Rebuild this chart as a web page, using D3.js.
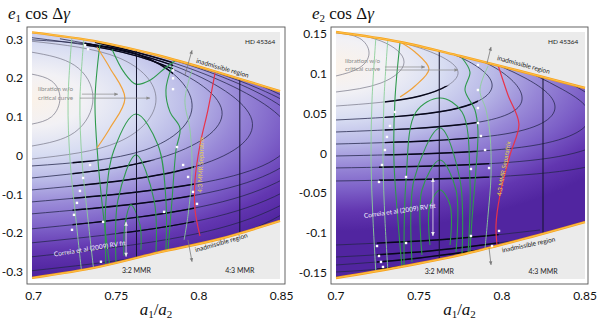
<!DOCTYPE html>
<html><head><meta charset="utf-8">
<script src="https://cdn.jsdelivr.net/npm/d3@7"></script>
<style>body{margin:0;background:#fff}svg{display:block}</style>
</head><body><svg id="c" width="600" height="321"></svg>
<script>
// ---------------- DATA ----------------
const xTicks = [0.7, 0.75, 0.8, 0.85];
const yTicksL = [0.3, 0.2, 0.1, 0, -0.1, -0.2, -0.3];
const yTicksR = [0.15, 0.1, 0.05, 0, -0.05, -0.1, -0.15];
const mmrX = [0.7622, 0.8247];
const mmrLabels = ["3:2 MMR", "4:3 MMR"];

// admissible-region boundaries [a1/a2, e cos dg]
const boundXL = [0.699, 0.74, 0.775, 0.813, 0.849];
const boundTopL = [0.319, 0.294, 0.26, 0.214, 0.167];
const boundBotL = [-0.315, -0.286, -0.25, -0.214, -0.168];
const boundXR = [0.7, 0.7386, 0.7747, 0.8108, 0.85];
const boundTopR = [0.1525, 0.14, 0.1224, 0.1036, 0.0822];
const boundBotR = [-0.1562, -0.1424, -0.1274, -0.1085, -0.086];

// energy level curves (black/grey)
const arcsL = [
  [[0.699,0.2111],[0.7109,0.1933],[0.7159,0.1492],[0.7109,0.1013],[0.699,0.0822]],
  [[0.699,0.2678],[0.7248,0.2338],[0.7359,0.1492],[0.7248,0.0608],[0.699,0.0255]],
  [[0.699,0.2961],[0.7515,0.2533],[0.774,0.1466],[0.7515,0.0363],[0.699,-0.008]],
  [[0.699,0.2998],[0.7643,0.26],[0.7958,0.1338],[0.7673,0.0152],[0.699,-0.026]],
  [[0.699,0.3052],[0.7704,0.2472],[0.8139,0.1157],[0.7764,-0.0054],[0.699,-0.057]],
  [[0.7159,0.3026],[0.7855,0.2317],[0.832,0.0925],[0.7946,-0.0312],[0.699,-0.0879]],
  [[0.7371,0.2936],[0.8036,0.2111],[0.855,0.0667],[0.8157,-0.057],[0.699,-0.1188]],
  [[0.7583,0.2807],[0.8218,0.1905],[0.8641,0.0539],[0.8181,-0.0827],[0.699,-0.1497]],
  [[0.7825,0.2523],[0.8369,0.1724],[0.8732,0.041],[0.8206,-0.1111],[0.699,-0.1884]],
  [[0.8067,0.2265],[0.846,0.1647],[0.8792,0.0281],[0.823,-0.142],[0.699,-0.2245]],
  [[0.8308,0.1956],[0.855,0.157],[0.8829,0.0152],[0.8254,-0.1704],[0.699,-0.2606]],
  [[0.855,0.1621],[0.8671,0.1183],[0.8853,0.0023],[0.8266,-0.1987],[0.699,-0.2966]]
];
const arcsR = [
  [[0.7,0.1513],[0.7139,0.145],[0.7199,0.1261],[0.7139,0.1073],[0.7,0.0973]],
  [[0.7,0.1538],[0.7271,0.1412],[0.741,0.1148],[0.7271,0.0885],[0.7,0.0772]],
  [[0.7145,0.1513],[0.7506,0.1324],[0.7735,0.1023],[0.7506,0.0722],[0.7,0.0596]],
  [[0.7386,0.1425],[0.7717,0.1236],[0.794,0.0872],[0.7687,0.0546],[0.7,0.0421]],
  [[0.7627,0.1324],[0.7928,0.1111],[0.812,0.0722],[0.7867,0.0396],[0.7,0.027]],
  [[0.7867,0.1199],[0.8139,0.0948],[0.8319,0.0596],[0.8018,0.0245],[0.7,0.0119]],
  [[0.8108,0.1073],[0.8349,0.0822],[0.853,0.0471],[0.8169,0.0094],[0.7,-0.0031]],
  [[0.8349,0.0948],[0.853,0.0734],[0.8681,0.0358],[0.8289,-0.0056],[0.7,-0.0181]],
  [[0.853,0.086],[0.8681,0.0609],[0.8831,0.0232],[0.841,-0.0207],[0.7,-0.0345]],
  [[0.7,-0.1148],[0.7687,-0.1073],[0.8229,-0.096]],
  [[0.7,-0.1299],[0.7566,-0.1223],[0.8108,-0.1085]],
  [[0.7,-0.1399],[0.7446,-0.1324],[0.7867,-0.1211]],
  [[0.7,-0.1487],[0.7325,-0.1437],[0.7627,-0.1336]],
  [[0.7,-0.155],[0.7205,-0.1512],[0.7386,-0.1437]]
];
// bold stretches: which level curves, inside window [x0, x1, y0, y1]
const boldL = [
  {arcs:[3,4,5,6], win:[0.731,0.7843,0.165,0.30]},
  {arcs:[3,4,5,6,7,8,9], win:[0.7235,0.797,-0.20,-0.012]}
];
const boldR = [
  {arcs:[2,3,4,5,6], win:[0.7295,0.7855,-0.004,0.085]},
  {arcs:[7,8], win:[0.7259,0.7922,-0.04,-0.012]},
  {arcs:[9,10,11,12,13], win:[0.7247,0.798,-0.145,-0.095]}
];

// critical curve (orange) and 4:3 separatrix (red)
const orangeL = [[0.7383,0.2807],[0.7462,0.2265],[0.7552,0.1492],[0.7462,0.0719],[0.7383,0.0203]];
const orangeR = [[0.7386,0.14],[0.7476,0.1274],[0.756,0.1061],[0.7476,0.0847],[0.7386,0.0709]];
const redL = [[0.8097,0.2137],[0.8054,0.1183],[0.8006,0.0281],[0.7976,-0.0621],[0.7976,-0.1394],[0.8006,-0.2064]];
const redR = [[0.797,0.1148],[0.8036,0.0734],[0.8102,0.0371],[0.8048,-0.0019],[0.7988,-0.052],[0.7964,-0.0897],[0.797,-0.1148]];

// 3:2 resonance level curves (green); "light" ones are paler
const greenL = [
  {light:true, pts:[[0.7232,0.3116],[0.7208,0.1441],[0.722,-0.0106],[0.7256,-0.1652],[0.7292,-0.307]]},
  {light:true, pts:[[0.7304,0.3039],[0.728,0.1441],[0.7292,-0.0106],[0.7329,-0.1652],[0.7365,-0.3018]]},
  {light:false, pts:[[0.7401,0.2884],[0.7371,0.1441],[0.7389,-0.0106],[0.7425,-0.1652],[0.7462,-0.2889]]},
  {light:false, pts:[[0.7474,0.2755],[0.7546,0.2162],[0.7619,0.1853],[0.7704,0.1956],[0.7794,0.2265],[0.7861,0.2472]]},
  {light:false, pts:[[0.7438,-0.2941],[0.7438,-0.1137],[0.7486,0.0152],[0.7619,0.108],[0.7752,0.0281],[0.78,-0.1137],[0.78,-0.2425]]},
  {light:false, pts:[[0.7498,-0.2735],[0.751,-0.1137],[0.7619,0.0023],[0.7728,-0.1137],[0.774,-0.2477]]},
  {light:false, pts:[[0.7546,-0.258],[0.7552,-0.1781],[0.7589,-0.1266],[0.7643,-0.1781],[0.7649,-0.2425]]},
  {light:false, pts:[[0.7837,0.2317],[0.78,0.1698],[0.7825,0.1131],[0.7885,0.0719],[0.7861,0.0152],[0.7837,-0.1137],[0.7813,-0.2425]]},
  {light:true, pts:[[0.7958,0.222],[0.7915,0.1441],[0.7946,0.0667],[0.7958,-0.0363],[0.7934,-0.1523],[0.791,-0.2167]]}
];
const greenR = [
  {light:true, pts:[[0.7241,0.1475],[0.7217,0.0672],[0.7211,-0.0081],[0.7223,-0.0834],[0.7241,-0.1525]]},
  {light:true, pts:[[0.7313,0.145],[0.7289,0.0672],[0.7283,-0.0081],[0.7295,-0.0834],[0.7313,-0.1487]]},
  {light:false, pts:[[0.7386,0.14],[0.7355,0.0672],[0.7349,-0.0081],[0.7373,-0.0834],[0.7398,-0.1437]]},
  {light:false, pts:[[0.7759,0.1199],[0.7807,0.1023],[0.7777,0.0797],[0.7837,0.0546],[0.7855,0.0295],[0.7843,-0.0207],[0.7819,-0.0834],[0.7807,-0.1236]]},
  {light:true, pts:[[0.7916,0.1098],[0.7867,0.0797],[0.7904,0.0546],[0.7928,0.0232],[0.7934,-0.027],[0.7916,-0.0771],[0.7898,-0.1186]]},
  {light:false, pts:[[0.741,-0.1462],[0.7422,-0.0332],[0.7482,0.0521],[0.7627,0.0697],[0.7759,0.0521],[0.7807,-0.0332],[0.7795,-0.1273]]},
  {light:false, pts:[[0.7458,-0.1361],[0.747,-0.0332],[0.7627,0.032],[0.7747,-0.0332],[0.7759,-0.1273]]},
  {light:false, pts:[[0.7518,-0.1273],[0.7518,-0.0458],[0.7627,-0.0081],[0.7723,-0.0458],[0.7723,-0.1236]]},
  {light:false, pts:[[0.7566,-0.1148],[0.7566,-0.0646],[0.7627,-0.0458],[0.7687,-0.0646],[0.7687,-0.1148]]}
];

// highlighted solution points (white squares)
const dotsL = [[0.7311,0.2858],[0.7329,0.2755],[0.7843,0.2209],[0.7843,0.2003],[0.7843,0.1724],[0.7867,0.0229],
  [0.7341,-0.0235],[0.7299,-0.057],[0.728,-0.0905],[0.7262,-0.1214],[0.7244,-0.1523],[0.7232,-0.191],
  [0.7904,-0.0235],[0.7934,-0.0544],[0.7964,-0.0931],[0.7988,-0.124],[0.7789,-0.1446],[0.742,-0.1704],[0.7407,-0.2735]];
const dotsR = [[0.7355,0.0521],[0.7325,0.0346],[0.7307,0.0208],[0.7295,0.0044],[0.7855,0.1111],[0.7855,0.0797],
  [0.7855,0.0571],[0.7855,0.0383],[0.7873,0.022],[0.7898,0.0044],[0.7277,-0.0144],[0.7259,-0.0357],[0.7422,-0.0295],
  [0.7813,-0.0194],[0.7922,-0.0182],[0.7247,-0.1161],[0.7259,-0.1286],[0.7271,-0.1361],[0.7283,-0.1424],
  [0.7422,-0.1123],[0.7813,-0.1035],[0.7982,-0.0972],[0.794,-0.1161]];

// annotations (anchor in data units)
const notesL = {
  hd:[0.8278,0.2884], inadTop:[0.8139,0.2214,16], inadBot:[0.8139,-0.2297,-16],
  arrTop:[[0.7915,0.2085],[0.7958,0.2729]], arrBot:[[0.7933,-0.2167],[0.7958,-0.2735]],
  lib:[0.7026,0.1673], libArr:[[[0.7292,0.1595],[0.751,0.1595]],[[0.728,0.1492],[0.7704,0.1492]]],
  correia:[0.7341,-0.2451,-9], fitArr:[[0.7559,-0.1704],[0.7559,-0.2606]],
  sep:[0.8024,-0.0232,-88], mmrY:-0.3015
};
const notesR = {
  hd:[0.8277,0.1374], inadTop:[0.8126,0.1086,15], inadBot:[0.8163,-0.1173,-12],
  arrTop:[[0.791,0.1136],[0.7934,0.1337]], arrBot:[[0.7922,-0.1186],[0.7934,-0.1399]],
  lib:[0.7054,0.1136], libArr:[[[0.7295,0.1086],[0.7536,0.1086]],[[0.7295,0.1048],[0.7735,0.1048]]],
  correia:[0.7386,-0.0746,-8], fitArr:[[0.7584,-0.0307],[0.7584,-0.1035]],
  sep:[0.8024,-0.0194,-80], mmrY:-0.1512
};

// ---------------- DRAW ----------------
const svg = d3.select('#c');
const defs = svg.append('defs');

function panel(p){
  const x = d3.scaleLinear().domain(p.xDom).range([p.inner[0], p.inner[2]]);
  const y = d3.scaleLinear().domain(p.yDom).range([p.inner[3], p.inner[1]]);
  const g = svg.append('g');
  g.append('rect').attr('x',p.frame[0]).attr('y',p.frame[1]).attr('width',p.frame[2]-p.frame[0]).attr('height',p.frame[3]-p.frame[1])
    .attr('fill','#fff').attr('stroke','#555').attr('stroke-width',0.9);
  g.append('rect').attr('x',p.inner[0]).attr('y',p.inner[1]).attr('width',p.inner[2]-p.inner[0]).attr('height',p.inner[3]-p.inner[1])
    .attr('fill','#ebebeb');

  const bnd = p.bx.map((v,i)=>({x:v, t:p.bt[i], b:p.bb[i]}));
  const area = d3.area().x(d=>x(d.x)).y0(d=>y(d.b)).y1(d=>y(d.t)).curve(d3.curveMonotoneX);
  const gid = 'grad'+p.id;
  const cx = p.inner[0]-4, cy = y(p.gcY);
  const rg = defs.append('radialGradient').attr('id',gid).attr('gradientUnits','userSpaceOnUse')
    .attr('cx',cx).attr('cy',cy).attr('r',p.gR)
    .attr('gradientTransform',`translate(${cx} ${cy}) scale(1 ${p.gS}) translate(${-cx} ${-cy})`);
  [[0,'#fbf2e8'],[0.16,'#f2f1f5'],[0.32,'#d8ddf2'],[0.47,'#b9b9e7'],[0.61,'#9888d7'],[0.75,'#7c5fc7'],[0.88,'#6236b0'],[1,'#5125a0']]
    .forEach(s=>rg.append('stop').attr('offset',s[0]).attr('stop-color',s[1]));
  const cid = 'clip'+p.id;
  defs.append('clipPath').attr('id',cid).append('path').attr('d',area(bnd));
  g.append('path').attr('d',area(bnd)).attr('fill',`url(#${gid})`);

  const cg = g.append('g').attr('clip-path',`url(#${cid})`);
  const ln = d3.line().x(d=>x(d[0])).y(d=>y(d[1])).curve(d3.curveNatural);
  const lnC = d3.line().x(d=>x(d[0])).y(d=>y(d[1])).curve(d3.curveCatmullRom);
  cg.selectAll('path.arc').data(p.arcs).join('path').attr('class','arc').attr('d',ln)
    .attr('fill','none').attr('stroke',(d,i)=> i<3 ? '#727282' : '#23264a').attr('stroke-width',(d,i)=> i<3?0.75:0.85)
    .attr('stroke-opacity',0.9);
  p.bold.forEach((b,k)=>{
    const id = 'bw'+p.id+k, w=b.win;
    defs.append('clipPath').attr('id',id).append('rect')
      .attr('x',x(w[0])).attr('y',y(w[3])).attr('width',x(w[1])-x(w[0])).attr('height',y(w[2])-y(w[3]));
    cg.append('g').attr('clip-path',`url(#${id})`).selectAll('path').data(b.arcs.map(i=>p.arcs[i])).join('path').attr('d',ln)
      .attr('fill','none').attr('stroke','#07071a').attr('stroke-width',1.4);
  });
  cg.selectAll('path.gr').data(p.green).join('path').attr('class','gr').attr('d',d=>lnC(d.pts))
    .attr('fill','none').attr('stroke',d=>d.light?'#8ccf9a':'#2e9a4c').attr('stroke-width',d=>d.light?0.9:1.1);
  cg.append('path').attr('d',lnC(p.orange)).attr('fill','none').attr('stroke','#f0a23a').attr('stroke-width',1.2);
  cg.append('path').attr('d',lnC(p.red)).attr('fill','none').attr('stroke','#e8334a').attr('stroke-width',1.2);
  cg.selectAll('line.mmr').data(mmrX).join('line').attr('class','mmr')
    .attr('x1',d=>x(d)).attr('x2',d=>x(d)).attr('y1',p.inner[1]).attr('y2',p.inner[3])
    .attr('stroke','#14142e').attr('stroke-width',1);
  const bl = key => d3.line().x(d=>x(d.x)).y(d=>y(d[key])).curve(d3.curveMonotoneX)(bnd);
  ['t','b'].forEach(k=>{
    g.append('path').attr('d',bl(k)).attr('fill','none').attr('stroke','#f7a21b').attr('stroke-width',2.4);
    g.append('path').attr('d',bl(k)).attr('fill','none').attr('stroke','#ffd36a').attr('stroke-width',0.6);
  });
  g.selectAll('rect.dot').data(p.dots).join('rect').attr('class','dot')
    .attr('x',d=>x(d[0])-1.2).attr('y',d=>y(d[1])-1.2).attr('width',2.4).attr('height',2.4).attr('fill','#fff');

  const n = p.notes;
  g.append('text').attr('x',x(n.hd[0])).attr('y',y(n.hd[1])).text('HD 45364')
    .attr('font-family','Lato, sans-serif').attr('font-size',6.5).attr('fill','#222');
  [n.inadTop, n.inadBot].forEach(a=>{
    g.append('text').attr('transform',`translate(${x(a[0])},${y(a[1])}) rotate(${a[2]})`).attr('text-anchor','middle')
      .attr('font-family','Lato, sans-serif').attr('font-size',6.5).attr('fill','#222').text('inadmissible region');
  });
  const arrow = (a,col,w)=>{
    const x1=x(a[0][0]),y1=y(a[0][1]),x2=x(a[1][0]),y2=y(a[1][1]);
    g.append('line').attr('x1',x1).attr('y1',y1).attr('x2',x2).attr('y2',y2).attr('stroke',col).attr('stroke-width',w);
    const ang=Math.atan2(y2-y1,x2-x1), L=4, s=0.45;
    g.append('path').attr('d',`M${x2},${y2}L${x2-L*Math.cos(ang-s)},${y2-L*Math.sin(ang-s)}L${x2-L*Math.cos(ang+s)},${y2-L*Math.sin(ang+s)}Z`).attr('fill',col);
  };
  arrow(n.arrTop,'#7a7a7a',0.8); arrow(n.arrBot,'#7a7a7a',0.8);
  n.libArr.forEach(a=>arrow(a,'#8a8a8a',0.7));
  const lt = g.append('text').attr('x',x(n.lib[0])).attr('y',y(n.lib[1])).attr('font-family','Lato, sans-serif')
    .attr('font-size',6.3).attr('fill','#8c8c8c');
  lt.append('tspan').text('libration w/o');
  lt.append('tspan').attr('x',x(n.lib[0])).attr('dy',8.5).text('critical curve');
  g.append('text').attr('transform',`translate(${x(n.correia[0])},${y(n.correia[1])}) rotate(${n.correia[2]})`)
    .attr('text-anchor','middle').attr('font-family','Lato, sans-serif').attr('font-size',6.5).attr('fill','#f4f0ff')
    .text('Correia et al (2009) RV fit');
  {
    const a=n.fitArr, xx=x(a[0][0]), y1=y(a[0][1]), y2=y(a[1][1]);
    g.append('line').attr('x1',xx).attr('x2',xx).attr('y1',y1).attr('y2',y2).attr('stroke','#eee').attr('stroke-width',0.8);
    g.append('path').attr('d',`M${xx},${y1}l-1.8,4h3.6z M${xx},${y2}l-1.8,-4h3.6z`).attr('fill','#eee');
  }
  g.append('text').attr('transform',`translate(${x(n.sep[0])},${y(n.sep[1])}) rotate(${n.sep[2]})`)
    .attr('text-anchor','middle').attr('font-family','Lato, sans-serif').attr('font-size',6.3).attr('fill','#e8d44a')
    .text('4:3 MMR Separatrix');
  g.selectAll('text.mmr').data(mmrX).join('text').attr('class','mmr').attr('x',d=>x(d)).attr('y',y(n.mmrY))
    .attr('text-anchor','middle').attr('font-family','Lato, sans-serif').attr('font-size',7).attr('fill','#222')
    .text((d,i)=>mmrLabels[i]);

  g.selectAll('text.xt').data(xTicks).join('text').attr('class','xt').attr('x',d=>x(d)).attr('y',300)
    .attr('text-anchor','middle').attr('font-family','Lato, sans-serif').attr('font-size',12).attr('fill','#111')
    .text(d=>String(d));
  g.selectAll('text.yt').data(p.yTicks).join('text').attr('class','yt').attr('x',p.frame[0]-4).attr('y',d=>y(d)+4)
    .attr('text-anchor','end').attr('font-family','Lato, sans-serif').attr('font-size',12).attr('fill','#111')
    .text(d=>String(d));
  const t = g.append('text').attr('x',p.frame[0]-19).attr('y',19).attr('font-family','"Liberation Serif", serif').attr('font-size',17).attr('fill','#111');
  t.append('tspan').attr('font-style','italic').text('e');
  t.append('tspan').attr('font-size',11).attr('dy',3).text(p.sub);
  t.append('tspan').attr('dy',-3).text(' cos Δ');
  t.append('tspan').attr('font-style','italic').text('γ');
  const xl = g.append('text').attr('x',(p.frame[0]+p.frame[2])/2).attr('y',315).attr('text-anchor','middle')
    .attr('font-family','"Liberation Serif", serif').attr('font-size',17).attr('fill','#111');
  xl.append('tspan').attr('font-style','italic').text('a');
  xl.append('tspan').attr('font-size',11).attr('dy',3).text('1');
  xl.append('tspan').attr('dy',-3).text('/');
  xl.append('tspan').attr('font-style','italic').text('a');
  xl.append('tspan').attr('font-size',11).attr('dy',3).text('2');
}

panel({id:'L', frame:[27,27,285,284], inner:[32,32,280,279], xDom:[0.699,0.849], yDom:[-0.318,0.32],
  bx:boundXL, bt:boundTopL, bb:boundBotL, arcs:arcsL, bold:boldL, green:greenL, orange:orangeL, red:redL, dots:dotsL,
  notes:notesL, yTicks:yTicksL, sub:'1', gcY:0.145, gR:345, gS:0.5});
panel({id:'R', frame:[331,27,588,284], inner:[336,32,585,279], xDom:[0.7,0.85], yDom:[-0.1575,0.1525],
  bx:boundXR, bt:boundTopR, bb:boundBotR, arcs:arcsR, bold:boldR, green:greenR, orange:orangeR, red:redR, dots:dotsR,
  notes:notesR, yTicks:yTicksR, sub:'2', gcY:0.11, gR:345, gS:0.48});
</script></body></html>
